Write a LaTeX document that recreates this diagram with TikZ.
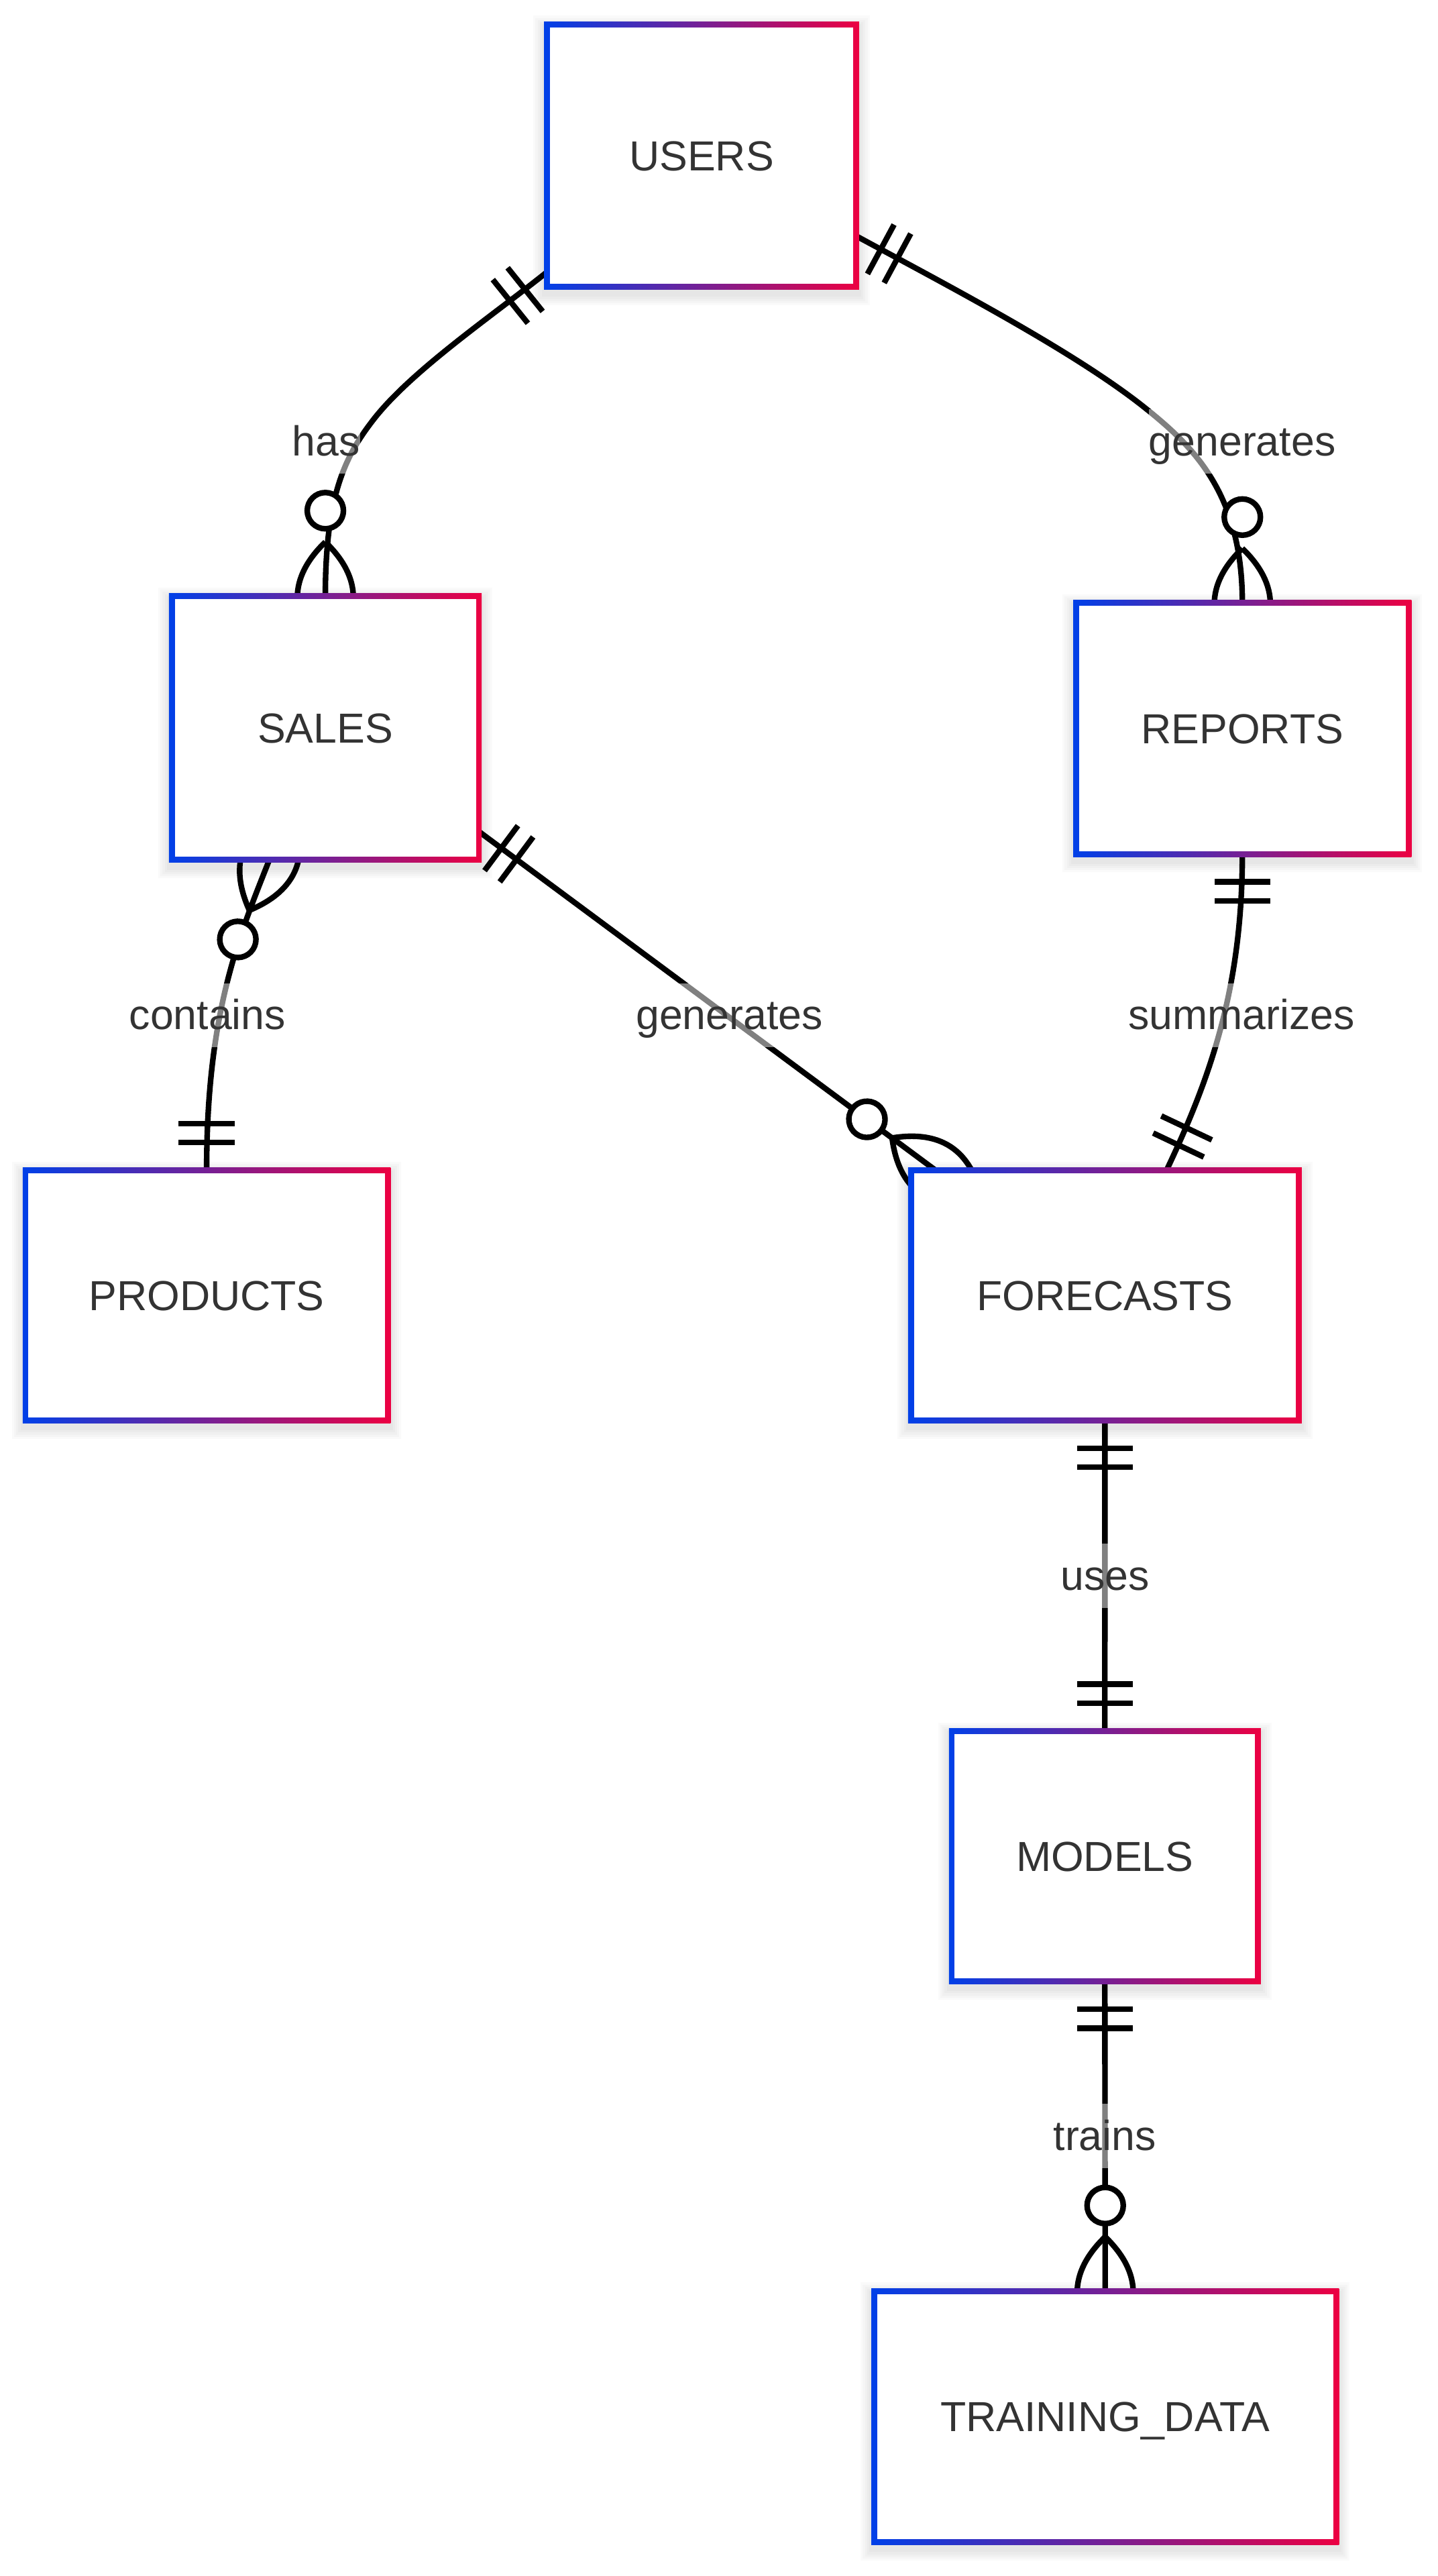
\documentclass[tikz,border=0pt]{standalone}
\usepackage{fontspec}
\setmainfont{Liberation Sans}
\usetikzlibrary{calc}
\definecolor{entblue}{RGB}{0,64,232}
\definecolor{entred}{RGB}{236,0,66}
\definecolor{txtgray}{RGB}{51,51,51}
\pgfdeclarelayer{edgelayer}
\pgfdeclarelayer{boxlayer}
\pgfsetlayers{edgelayer,boxlayer,main}

% only-one marker: #1 end coordinate, (#2,#3) outward unit direction (screen coords, y down)
\newcommand\erOne[3]{%
  \begin{scope}[shift={(#1)}, x={({(#2)*1pt},{-(#3)*1pt})}, y={({-(#3)*1pt},{-(#2)*1pt})}]
    \draw[erline] (17,-17) -- (17,17) (28.5,-17) -- (28.5,17);
  \end{scope}}
% zero-or-more marker
\newcommand\erMany[3]{%
  \begin{scope}[shift={(#1)}, x={({(#2)*1pt},{-(#3)*1pt})}, y={({-(#3)*1pt},{-(#2)*1pt})}]
    \draw[erline] (33,0) .. controls (11,-22.67) and (-12,-22.67) .. (-36,0);
    \draw[erline] (33,0) .. controls (11,22.67) and (-12,22.67) .. (-36,0);
    \draw[erline, fill=white] (52,0) circle[radius=11];
  \end{scope}}
% gradient-bordered entity box behind a named node
\newcommand\erBox[1]{%
  \foreach \k in {1,...,5} {%
    \fill[black, opacity=0.02] ($(#1.south west)+({-1.75-\k*1.3},{4.75+\k*1.3})$) rectangle ($(#1.north east)+({1.75+\k*1.3},{1.25-\k*1.3})$);}
  \shade[left color=entblue, right color=entred] ($(#1.south west)+(-1.75,1.75)$) rectangle ($(#1.north east)+(1.75,-1.75)$);
  \fill[white] ($(#1.south west)+(1.75,-1.75)$) rectangle ($(#1.north east)+(-1.75,1.75)$);}

\begin{document}
\begin{tikzpicture}[x=1pt,y=-1pt,
  erline/.style={draw=black, line width=3.4pt},
  entity/.style={font=\fontsize{25.5pt}{30pt}\selectfont, text=txtgray, inner sep=0pt,
    text height=18.3pt, text depth=0pt},
  erlabel/.style={font=\fontsize{25.5pt}{30pt}\selectfont, text=txtgray, fill=white,
    fill opacity=0.5, text opacity=1, inner sep=0pt, text height=28.3pt, text depth=10.7pt}]
\useasboundingbox (0,0) rectangle (873,1564.3);

% entities
\node[entity,minimum width=187.4pt,minimum height=159pt] (users) at (426.1,94.5) {USERS};
\node[entity,minimum width=186pt,minimum height=159.6pt] (sales) at (197.6,442.1) {SALES};
\node[entity,minimum width=201.5pt,minimum height=152.1pt] (reports) at (754.55,442.25) {REPORTS};
\node[entity,minimum width=219.6pt,minimum height=151.3pt] (products) at (125.5,786.65) {PRODUCTS};
\node[entity,minimum width=235.2pt,minimum height=151.4pt] (forecasts) at (671.1,786.6) {FORECASTS};
\node[entity,minimum width=185.5pt,minimum height=151.5pt] (models) at (671.05,1127.15) {MODELS};
\node[entity,minimum width=280.1pt,minimum height=152pt] (training) at (671.25,1467.5) {TRAINING\_DATA};

% connector end points
\coordinate (hasA) at ($(users.south west)+(0,-9)$);
\coordinate (hasM) at (226.9,254.7);
\coordinate (hasB) at (sales.north);
\coordinate (genA) at ($(users.north east)+(0,128.5)$);
\coordinate (genM) at (696.6,248.6);
\coordinate (genB) at (reports.north);
\coordinate (conA) at ($(sales.south)+(-34,0)$);
\coordinate (conB) at (products.north);
\coordinate (gtwA) at ($(sales.south east)+(0,-17.2)$);
\coordinate (gtwB) at ($(forecasts.north west)+(15,0)$);
\coordinate (sumA) at (reports.south);
\coordinate (sumB) at ($(forecasts.north)+(37.4,0)$);
\coordinate (useA) at (forecasts.south);
\coordinate (useB) at (models.north);
\coordinate (trnA) at (models.south);
\coordinate (trnB) at (training.north);

\begin{pgfonlayer}{edgelayer}
  \fill[white] (0,0) rectangle (873,1564.3);
  \draw[erline] (hasA) .. controls +(-32.4,26) and +(23.1,-29.7) .. (hasM)
                       .. controls +(-16.9,21.8) and +(0,-62) .. (hasB);
  \draw[erline] (genA) .. controls +(60.2,32.5) and +(-41.6,-33.6) .. (genM)
                       .. controls +(28.4,22.9) and +(0,-66) .. (genB);
  \draw[erline] (conA) .. controls +(-18.6,47) and +(0,-96) .. (conB);
  \draw[erline] (gtwA) -- (gtwB);
  \draw[erline] (sumA) .. controls +(0,81.7) and +(26.5,-56) .. (sumB);
  \draw[erline] (useA) -- (useB);
  \draw[erline] (trnA) -- (trnB);
  \erOne{hasA}{-0.78}{0.626}
  \erMany{hasB}{0}{-1}
  \erOne{genA}{0.88}{0.475}
  \erMany{genB}{0}{-1}
  \erMany{conA}{-0.368}{0.930}
  \erOne{conB}{0}{-1}
  \erOne{gtwA}{0.803}{0.596}
  \erMany{gtwB}{-0.803}{-0.596}
  \erOne{sumA}{0}{1}
  \erOne{sumB}{0.428}{-0.904}
  \erOne{useA}{0}{1}
  \erOne{useB}{0}{-1}
  \erOne{trnA}{0}{1}
  \erMany{trnB}{0}{-1}
\end{pgfonlayer}

\begin{pgfonlayer}{boxlayer}
  \erBox{users}
  \erBox{sales}
  \erBox{reports}
  \erBox{products}
  \erBox{forecasts}
  \erBox{models}
  \erBox{training}
\end{pgfonlayer}

% relationship labels
\node[erlabel] (lhas) at (198,268) {has};
\node[erlabel] (lgen) at (754.5,268) {generates};
\node[erlabel] (lcon) at (126,616.5) {contains};
\node[erlabel] (lgtw) at (443,616.5) {generates};
\node[erlabel] (lsum) at (754,616.5) {summarizes};
\node[erlabel] (luse) at (671.3,957) {uses};
\node[erlabel] (ltrn) at (671,1297) {trains};
\end{tikzpicture}
\end{document}
